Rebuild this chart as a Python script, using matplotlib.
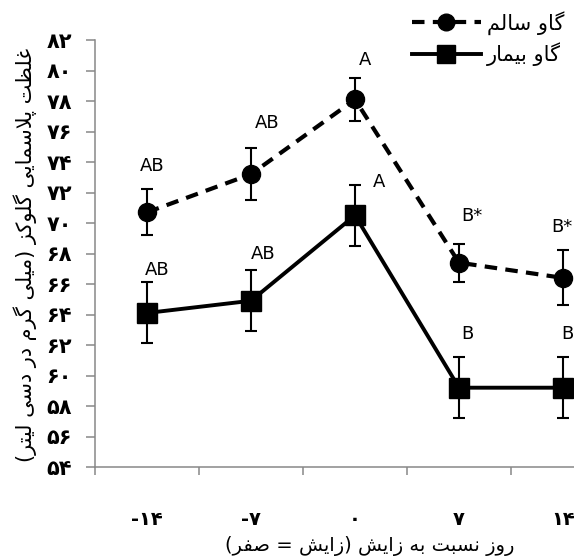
import numpy as np
import matplotlib
matplotlib.use("Agg")
import matplotlib.pyplot as plt
from matplotlib.lines import Line2D

# ---------------- data ----------------
days = [-14, -7, 0, 7, 14]
healthy = [70.7, 73.2, 78.1, 67.4, 66.4]
healthy_err = [1.5, 1.7, 1.4, 1.25, 1.8]
sick = [64.1, 64.9, 70.5, 59.2, 59.2]
sick_err = [2.0, 2.0, 2.0, 2.0, 2.0]
healthy_letters = ["AB", "AB", "A", "B*", "B*"]
sick_letters = ["AB", "AB", "A", "B", "B"]
y_ticks = list(range(54, 83, 2))
label_healthy = "گاو سالم"
label_sick = "گاو بیمار"
xlabel = "روز نسبت به زایش (زایش = صفر)"
ylabel = "غلظت پلاسمایی گلوکز (میلی گرم در دسی لیتر)"

# ---------------- simple Persian shaping ----------------
RIGHT = {'ا': ('\uFE8D', '\uFE8E'), 'د': ('\uFEA9', '\uFEAA'),
         'ر': ('\uFEAD', '\uFEAE'), 'ز': ('\uFEAF', '\uFEB0'),
         'و': ('\uFEED', '\uFEEE'), 'LA': ('\uFEFB', '\uFEFC')}
DUAL = {
    'ب': ('\uFE8F', '\uFE90', '\uFE91', '\uFE92'),
    'ت': ('\uFE95', '\uFE96', '\uFE97', '\uFE98'),
    'پ': ('\uFB56', '\uFB57', '\uFB58', '\uFB59'),
    'س': ('\uFEB1', '\uFEB2', '\uFEB3', '\uFEB4'),
    'ش': ('\uFEB5', '\uFEB6', '\uFEB7', '\uFEB8'),
    'ص': ('\uFEB9', '\uFEBA', '\uFEBB', '\uFEBC'),
    'ظ': ('\uFEC5', '\uFEC6', '\uFEC7', '\uFEC8'),
    'غ': ('\uFECD', '\uFECE', '\uFECF', '\uFED0'),
    'ف': ('\uFED1', '\uFED2', '\uFED3', '\uFED4'),
    'ل': ('\uFEDD', '\uFEDE', '\uFEDF', '\uFEE0'),
    'م': ('\uFEE1', '\uFEE2', '\uFEE3', '\uFEE4'),
    'ن': ('\uFEE5', '\uFEE6', '\uFEE7', '\uFEE8'),
    'ه': ('\uFEE9', '\uFEEA', '\uFEEB', '\uFEEC'),
    'ک': ('\uFB8E', '\uFB8F', '\uFB90', '\uFB91'),
    'گ': ('\uFB92', '\uFB93', '\uFB94', '\uFB95'),
    'ی': ('\uFBFC', '\uFBFD', '\uFBFE', '\uFBFF'),
}
MIRROR = {'(': ')', ')': '('}


def fa(text):
    toks = []
    i = 0
    while i < len(text):
        if text[i] == 'ل' and i + 1 < len(text) and text[i + 1] == 'ا':
            toks.append('LA')
            i += 2
        else:
            toks.append(text[i])
            i += 1
    out = []
    for k, t in enumerate(toks):
        prev_d = k > 0 and toks[k - 1] in DUAL
        next_j = k + 1 < len(toks) and (toks[k + 1] in DUAL or toks[k + 1] in RIGHT)
        if t in DUAL:
            f = DUAL[t]
            if prev_d and next_j:
                out.append(f[3])
            elif prev_d:
                out.append(f[1])
            elif next_j:
                out.append(f[2])
            else:
                out.append(f[0])
        elif t in RIGHT:
            out.append(RIGHT[t][1] if prev_d else RIGHT[t][0])
        else:
            out.append(MIRROR.get(t, t))
    return ''.join(reversed(out))


PDIG = str.maketrans('0123456789', '۰۱۲۳۴۵۶۷۸۹')


def pnum(v):
    return str(v).translate(PDIG)


plt.rcParams['font.family'] = ['DejaVu Sans']

fig = plt.figure(figsize=(5.74, 5.59), dpi=100)
ax = fig.add_axes([95 / 574, 92 / 559, 520 / 574, 427 / 559])

x = np.arange(len(days))

ax.errorbar(x, healthy, yerr=healthy_err, fmt='none', ecolor='black',
            elinewidth=1.5, capsize=4.5, capthick=1.5, zorder=2, clip_on=False)
ax.errorbar(x, sick, yerr=sick_err, fmt='none', ecolor='black',
            elinewidth=1.5, capsize=4.5, capthick=1.5, zorder=2, clip_on=False)
lh, = ax.plot(x, healthy, color='black', lw=3, dashes=(3, 2), dash_capstyle='butt',
              marker='o', markersize=13, zorder=3, clip_on=False)
ls, = ax.plot(x, sick, color='black', lw=2.8, marker='s', markersize=14,
              zorder=3, clip_on=False)

# letters
h_off = [(4, 17), (12, 18), (7, 13), (9, 20), (-1, 17)]
s_off = [(7, 9), (9, 12), (17, 2), (6, 17), (3, 17)]
for xi, v, e, t, o in zip(x, healthy, healthy_err, healthy_letters, h_off):
    ax.annotate(t, (xi, v + e), xytext=o, textcoords='offset points',
                ha='center', va='center', fontsize=13)
for xi, v, e, t, o in zip(x, sick, sick_err, sick_letters, s_off):
    ax.annotate(t, (xi, v + e), xytext=o, textcoords='offset points',
                ha='center', va='center', fontsize=13)

ax.set_xlim(-0.5, len(days) - 0.5)
ax.set_ylim(54, 82)
ax.set_yticks(y_ticks)
ax.set_yticklabels([pnum(v) for v in y_ticks], fontsize=15, fontweight='bold')
ax.set_xticks(x)
ax.set_xticklabels([('-' + pnum(-d)) if d < 0 else pnum(d) for d in days],
                   fontsize=14, fontweight='bold')
ax.set_xticks(np.arange(len(days) + 1) - 0.5, minor=True)
ax.tick_params(axis='x', which='major', length=0, pad=31)
ax.tick_params(axis='x', which='minor', length=6, width=1.1, color='#888888')
ax.tick_params(axis='y', length=6.5, width=1.1, color='#888888', pad=10)

for s in ['top', 'right']:
    ax.spines[s].set_visible(False)
for s in ['left', 'bottom']:
    ax.spines[s].set_color('#888888')
    ax.spines[s].set_linewidth(1.1)

fig.text(370 / 574, 1 - 546 / 559, fa(xlabel), ha='center', va='center', fontsize=14)
fig.text(25 / 574, 1 - 255 / 559, fa(ylabel), ha='center', va='center',
         rotation=90, fontsize=15)

h1 = Line2D([], [], color='black', lw=3, dashes=(3, 2), marker='o', markersize=12)
h2 = Line2D([], [], color='black', lw=2.8, marker='s', markersize=13)
fig.legend([h1, h2], [fa(label_healthy), fa(label_sick)], loc='upper left',
           bbox_to_anchor=(412 / 574, 1 - 11 / 559), frameon=False, fontsize=15,
           handlelength=3.3, handletextpad=0.3, borderpad=0, labelspacing=0.35,
           borderaxespad=0)

fig.savefig('out.png', dpi=100)
